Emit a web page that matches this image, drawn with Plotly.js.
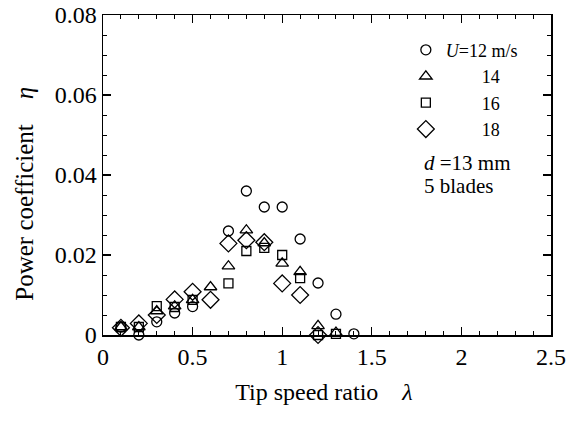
<!DOCTYPE html>
<html>
<head>
<meta charset="utf-8">
<script src="https://cdn.plot.ly/plotly-3.0.1.min.js"></script>
<style>
html,body{margin:0;padding:0;background:#fff;}
#chart{width:578px;height:421px;}
#chart svg text{font-family:'Liberation Serif','Times New Roman',serif !important;}
</style>
</head>
<body>
<div id="chart"></div>
<script>
// Tip speed ratio (lambda) and power coefficient (eta) for each wind speed U
const x12 = [0.1, 0.2, 0.3, 0.4, 0.5, 0.7, 0.8, 0.9, 1.0, 1.1, 1.2, 1.3, 1.4];
const y12 = [0.002, 0.0, 0.0033, 0.0055, 0.0071, 0.026, 0.036, 0.032, 0.032, 0.024, 0.013, 0.0052, 0.0003];

const x14 = [0.1, 0.2, 0.3, 0.4, 0.5, 0.6, 0.7, 0.8, 0.9, 1.0, 1.1, 1.2, 1.3];
const y14 = [0.002, 0.002, 0.006, 0.0072, 0.0088, 0.012, 0.0172, 0.0262, 0.023, 0.0179, 0.0158, 0.0023, 0.0006];

const x16 = [0.1, 0.2, 0.3, 0.4, 0.5, 0.7, 0.8, 0.9, 1.0, 1.1, 1.2, 1.3];
const y16 = [0.002, 0.002, 0.0072, 0.007, 0.0088, 0.0129, 0.021, 0.0218, 0.020, 0.0142, 0.0, 0.0003];

const x18 = [0.1, 0.2, 0.3, 0.4, 0.5, 0.6, 0.7, 0.8, 0.9, 1.0, 1.1, 1.2];
const y18 = [0.0018, 0.0029, 0.005, 0.0089, 0.0108, 0.0088, 0.0229, 0.0237, 0.0232, 0.0129, 0.010, 0.0];

const seriesNames = ["<i>U</i>=12 m/s", "&nbsp;&nbsp;&nbsp;&nbsp;&nbsp;&nbsp;&nbsp;&nbsp;14", "&nbsp;&nbsp;&nbsp;&nbsp;&nbsp;&nbsp;&nbsp;&nbsp;16", "&nbsp;&nbsp;&nbsp;&nbsp;&nbsp;&nbsp;&nbsp;&nbsp;18"];
const xTickVals = [0, 0.5, 1, 1.5, 2, 2.5];
const yTickVals = [0, 0.02, 0.04, 0.06, 0.08];
const yTickText = ["0", "0.02", "0.04", "0.06", "0.08"];
const noteLines = ["<i>d</i> =13 mm", "5 blades"];

const serif = "Liberation Serif";
function mk(x, y, name, symbol, size) {
  return {
    x: x, y: y, name: name, type: "scatter", mode: "markers",
    marker: {symbol: symbol, size: size, color: "#000", line: {color: "#000", width: 1.3}},
    cliponaxis: false
  };
}
const data = [
  mk(x12, y12, seriesNames[0], "circle-open", 10),
  mk(x14, y14, seriesNames[1], "triangle-up-open", 11),
  mk(x16, y16, seriesNames[2], "square-open", 9),
  mk(x18, y18, seriesNames[3], "diamond-open", 13)
];

const layout = {
  width: 578, height: 421,
  margin: {l: 103, r: 27, t: 15, b: 86},
  paper_bgcolor: "#fff", plot_bgcolor: "#fff",
  font: {family: serif, color: "#000", size: 20},
  showlegend: true,
  legend: {x: 0.676, y: 0.948, xanchor: "left", yanchor: "top", bgcolor: "rgba(0,0,0,0)",
           font: {family: serif, size: 18, color: "#000"}, tracegroupgap: 0, itemwidth: 30},
  xaxis: {
    range: [0, 2.5], tickvals: xTickVals, ticktext: xTickVals.map(String),
    ticks: "inside", ticklen: 8, tickwidth: 1.2, tickcolor: "#000",
    minor: {dtick: 0.1, ticks: "inside", ticklen: 4, tickwidth: 1, tickcolor: "#000"},
    showline: true, linecolor: "#000", linewidth: 1.5, mirror: "ticks",
    showgrid: false, zeroline: false,
    tickfont: {family: serif, size: 24, color: "#000"},
    title: {text: "Tip speed ratio&nbsp;&nbsp;&nbsp;&nbsp;<i>λ</i>&nbsp;", font: {family: serif, size: 24, color: "#000"}, standoff: 14}
  },
  yaxis: {
    range: [0, 0.08], tickvals: yTickVals, ticktext: yTickText,
    ticks: "inside", ticklen: 8, tickwidth: 1.2, tickcolor: "#000",
    minor: {dtick: 0.005, ticks: "inside", ticklen: 4, tickwidth: 1, tickcolor: "#000"},
    showline: true, linecolor: "#000", linewidth: 1.5, mirror: "ticks",
    showgrid: false, zeroline: false,
    tickfont: {family: serif, size: 24, color: "#000"},
    title: {text: "Power coefficient&nbsp;&nbsp;&nbsp;&nbsp;<i>η</i>&nbsp;&nbsp;&nbsp;&nbsp;&nbsp;&nbsp;", font: {family: serif, size: 25, color: "#000"}, standoff: 14}
  },
  annotations: [
    {xref: "paper", yref: "paper", x: 0.712, y: 0.536, xanchor: "left", yanchor: "middle", showarrow: false,
     text: noteLines[0], font: {family: serif, size: 21, color: "#000"}},
    {xref: "paper", yref: "paper", x: 0.712, y: 0.466, xanchor: "left", yanchor: "middle", showarrow: false,
     text: noteLines[1], font: {family: serif, size: 21, color: "#000"}}
  ]
};
Plotly.newPlot("chart", data, layout, {displayModeBar: false, staticPlot: true});
</script>
</body>
</html>
